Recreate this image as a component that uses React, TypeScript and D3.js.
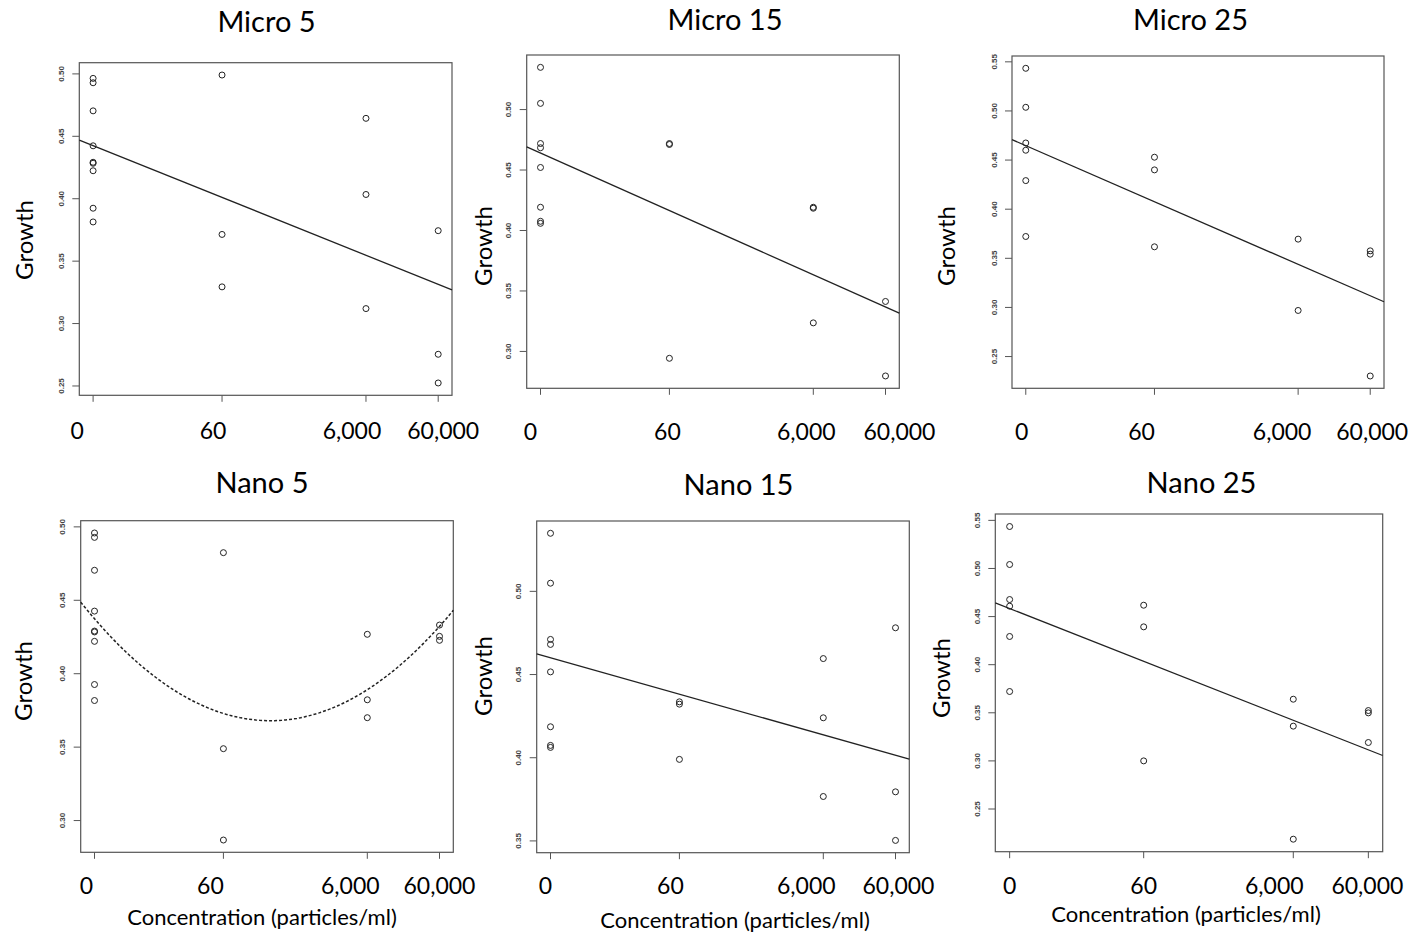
import React, { useEffect, useRef } from 'react';
import * as d3 from 'd3';

// concentration levels (particles/ml) and their printed labels
const concentrations = [0, 60, 6000, 60000];
const concLabels = ['0', '60', '6,000', '60,000'];

const titles = ['Micro 5', 'Micro 15', 'Micro 25', 'Nano 5', 'Nano 15', 'Nano 25'];

// growth readings, one inner array per concentration level
const micro5 = [
  [0.496, 0.4925, 0.47, 0.442, 0.4288, 0.428, 0.422, 0.392, 0.381],
  [0.4987, 0.371, 0.329],
  [0.464, 0.403, 0.3116],
  [0.374, 0.275, 0.252],
];
const micro15 = [
  [0.5345, 0.5047, 0.4715, 0.468, 0.4517, 0.4188, 0.4072, 0.4055],
  [0.4715, 0.4707, 0.2939],
  [0.4188, 0.418, 0.3232],
  [0.3409, 0.2793],
];
const micro25 = [
  [0.5429, 0.5032, 0.4669, 0.4595, 0.4286, 0.3717],
  [0.4524, 0.4395, 0.3612],
  [0.369, 0.2964],
  [0.3571, 0.3537, 0.2297],
];
const nano5 = [
  [0.4955, 0.4925, 0.4701, 0.4423, 0.4287, 0.4281, 0.4217, 0.3923, 0.3814],
  [0.4821, 0.3486, 0.2864],
  [0.4265, 0.3819, 0.3697],
  [0.4328, 0.4251, 0.4224],
];
const nano15 = [
  [0.5346, 0.5046, 0.4708, 0.4678, 0.4513, 0.4183, 0.4071, 0.4059],
  [0.4333, 0.4319, 0.3987],
  [0.4593, 0.4237, 0.3764],
  [0.4778, 0.3792, 0.35],
];
const nano25 = [
  [0.5431, 0.5036, 0.4672, 0.4603, 0.4288, 0.3716],
  [0.4613, 0.4388, 0.2995],
  [0.3636, 0.3356, 0.2181],
  [0.3518, 0.3494, 0.3186],
];

const series = [micro5, micro15, micro25, nano5, nano15, nano25];

// fitted trends: growth = c0 + c1*t + c2*t^2, t = log10(conc + 1)
const trendCoef = [
  [0.44216, -0.023254],
  [0.4637, -0.026664],
  [0.46419, -0.031974],
  [0.43708, -0.05702, 0.011707],
  [0.45976, -0.012247],
  [0.45783, -0.030734],
];

// ---- layout ----
const W = 1419;
const H = 933;
const frames = [
  { x0: 79.3, x1: 452, y0: 62.7, y1: 395.3 },
  { x0: 526.7, x1: 899.3, y0: 55, y1: 388.3 },
  { x0: 1012, x1: 1384, y0: 56, y1: 388.3 },
  { x0: 80.7, x1: 453.3, y0: 520.7, y1: 852.3 },
  { x0: 536.7, x1: 909.3, y0: 521, y1: 852.7 },
  { x0: 995.3, x1: 1382.7, y0: 514, y1: 851.7 },
];
const titlePos = [
  [266.5, 32], [725, 30], [1190.5, 30],
  [262, 493], [738.5, 495], [1201.5, 493],
];
const growthPos = [
  [33, 240], [492, 246], [955, 246],
  [32, 681], [492, 676], [950, 678],
];
const labelShift = [
  [-16, -9, -14, 5], [-10, -2, -7, 14], [-4, -13, -16, 2],
  [-8, -13, -17, 0], [-5, -9, -17, 3], [0, 0, -19, -1],
];
const labelBaseline = [439, 440, 440, 894, 894, 894];
const concTitlePos = [null, null, null, [262, 925], [735, 928], [1186, 922]];

const FONT = 'Lato, "Open Sans", sans-serif';

const tf = (c: number) => Math.log10(c + 1);

function pad(ext: [number, number]): [number, number] {
  const r = ext[1] - ext[0];
  return [ext[0] - 0.04 * r, ext[1] + 0.04 * r];
}

export default function App() {
  const svgRef = useRef<SVGSVGElement>(null);

  useEffect(() => {
    const svg = d3.select(svgRef.current);
    svg.selectAll('*').remove();
    svg.append('rect').attr('width', W).attr('height', H).attr('fill', '#fff');

    series.forEach((groups, p) => {
      const fr = frames[p];
      const pts = groups.flatMap((vals, gi) => vals.map(v => ({ t: tf(concentrations[gi]), v })));

      const x = d3.scaleLinear()
        .domain(pad(d3.extent(concentrations.map(tf)) as [number, number]))
        .range([fr.x0, fr.x1]);
      const y = d3.scaleLinear()
        .domain(pad(d3.extent(pts, d => d.v) as [number, number]))
        .range([fr.y1, fr.y0]);

      const g = svg.append('g');

      // y axis, R style rotated labels
      const ya = g.append('g')
        .attr('transform', `translate(${fr.x0},0)`)
        .call(d3.axisLeft(y).ticks(5).tickSize(7).tickFormat(d3.format('.2f')));
      ya.select('.domain').remove();
      ya.selectAll('line').attr('stroke', '#555').attr('stroke-width', 1);
      ya.selectAll('text')
        .attr('x', null).attr('dy', null).attr('y', null)
        .attr('transform', 'translate(-15.5,0) rotate(-90)')
        .attr('text-anchor', 'middle')
        .attr('fill', '#444')
        .style('font-family', '"Liberation Sans", Arial, sans-serif')
        .style('font-weight', 'bold')
        .style('font-size', '8px');

      // x ticks
      g.selectAll('.xt')
        .data(concentrations)
        .enter()
        .append('line')
        .attr('x1', d => x(tf(d)))
        .attr('x2', d => x(tf(d)))
        .attr('y1', fr.y1)
        .attr('y2', fr.y1 + 6.5)
        .attr('stroke', '#555');

      // frame
      g.append('rect')
        .attr('x', fr.x0).attr('y', fr.y0)
        .attr('width', fr.x1 - fr.x0).attr('height', fr.y1 - fr.y0)
        .attr('fill', 'none').attr('stroke', '#555').attr('stroke-width', 1.2);

      // trend
      const coef = trendCoef[p];
      const f = (t: number) => coef.reduce((acc, c, i) => acc + c * Math.pow(t, i), 0);
      const [t0, t1] = x.domain();
      const curved = coef.length > 2;
      const ts = curved ? d3.range(0, 101).map(i => t0 + (t1 - t0) * i / 100) : [t0, t1];
      g.append('path')
        .attr('d', d3.line<number>().x(t => x(t)).y(t => y(f(t)))(ts))
        .attr('fill', 'none')
        .attr('stroke', '#222')
        .attr('stroke-width', curved ? 1.5 : 1.3)
        .attr('stroke-dasharray', curved ? '3,2' : null);

      // points
      g.selectAll('circle')
        .data(pts)
        .enter()
        .append('circle')
        .attr('cx', d => x(d.t))
        .attr('cy', d => y(d.v))
        .attr('r', 3)
        .attr('fill', 'none')
        .attr('stroke', '#222')
        .attr('stroke-width', 1);

      // overlaid labels
      g.append('text')
        .attr('x', titlePos[p][0]).attr('y', titlePos[p][1])
        .attr('text-anchor', 'middle')
        .style('font-family', FONT).style('font-size', '29px')
        .text(titles[p]);

      g.append('text')
        .attr('transform', `translate(${growthPos[p][0]},${growthPos[p][1]}) rotate(-90)`)
        .attr('text-anchor', 'middle')
        .style('font-family', FONT).style('font-size', '24px')
        .text('Growth');

      g.selectAll('.xl')
        .data(concentrations)
        .enter()
        .append('text')
        .attr('x', (d, i) => x(tf(d)) + labelShift[p][i])
        .attr('y', labelBaseline[p])
        .attr('text-anchor', 'middle')
        .style('font-family', FONT).style('font-size', '23px')
        .text((d, i) => concLabels[i]);

      const ct = concTitlePos[p];
      if (ct) {
        g.append('text')
          .attr('x', ct[0]).attr('y', ct[1])
          .attr('text-anchor', 'middle')
          .style('font-family', FONT).style('font-size', '22px')
          .text('Concentration (particles/ml)');
      }
    });
  }, []);

  return (
    <svg
      ref={svgRef}
      width={W}
      height={H}
      style={{ position: 'absolute', left: 0, top: 0, display: 'block' }}
    />
  );
}
